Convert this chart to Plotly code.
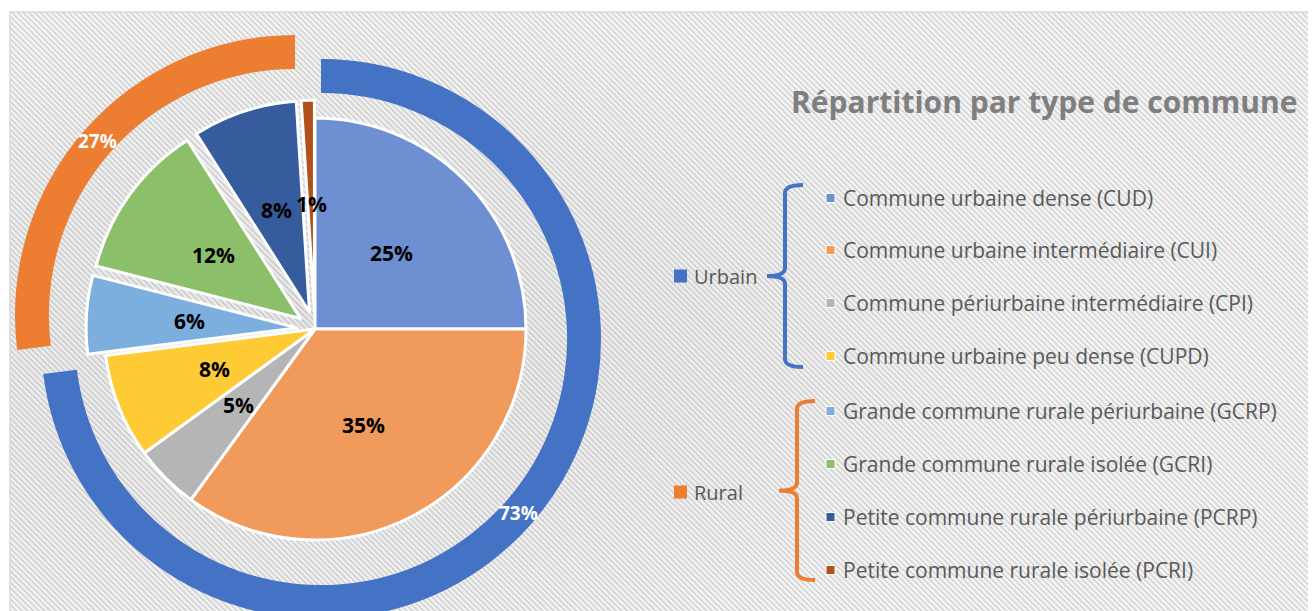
import base64
import math
import plotly.graph_objects as go

# la page html a une marge de 8 px : on raisonne en pixels de l'écran
OFF = 8
W, H = 1316, 640

# données
groupes = ["Urbain", "Rural"]
couleurs_groupes = ["#4472C4", "#ED7D31"]

types = [
    "Commune urbaine dense (CUD)",
    "Commune urbaine intermédiaire (CUI)",
    "Commune périurbaine intermédiaire (CPI)",
    "Commune urbaine peu dense (CUPD)",
    "Grande commune rurale périurbaine (GCRP)",
    "Grande commune rurale isolée (GCRI)",
    "Petite commune rurale périurbaine (PCRP)",
    "Petite commune rurale isolée (PCRI)",
]
parts = [25, 35, 5, 8, 6, 12, 8, 1]
groupe_type = ["Urbain", "Urbain", "Urbain", "Urbain", "Rural", "Rural", "Rural", "Rural"]
couleurs_types = ["#6E90D2", "#F09A5C", "#B5B5B5", "#FFCB35",
                  "#7CAFDE", "#8CBF6A", "#365C9E", "#B0501A"]

totaux = [sum(v for v, g in zip(parts, groupe_type) if g == gr) for gr in groupes]


def px_x(x):
    return (x - OFF) / W


def px_y(y):
    return 1 - (y - OFF) / H


def domaine(cx, cy, demi):
    return dict(x=[px_x(cx - demi), px_x(cx + demi)], y=[px_y(cy + demi), px_y(cy - demi)])


def etiquette(x, y, texte, taille, couleur, gras=True, xanchor="center"):
    return dict(x=px_x(x), y=px_y(y), xref="paper", yref="paper", text=texte,
                xanchor=xanchor, yanchor="middle", showarrow=False,
                font=dict(family="Open Sans", size=taille, color=couleur,
                          weight="bold" if gras else "normal"))


# géométrie (pixels écran)
PIE_CX, PIE_CY, PIE_R, PULL = 315, 329, 211, 0.085
RING_R, RING_HOLE = 280, 0.879
ring_centres = [(321, 339), (295, 315)]

fig = go.Figure()
annotations = []

# anneau extérieur : une trace par groupe (effet "éclaté")
cumul = 0
for i, (gr, (cx, cy)) in enumerate(zip(groupes, ring_centres)):
    cols = ["rgba(0,0,0,0)"] * len(groupes)
    cols[i] = couleurs_groupes[i]
    fig.add_trace(go.Pie(
        values=totaux, labels=groupes, textinfo="none",
        marker=dict(colors=cols, line=dict(width=0)),
        hole=RING_HOLE, sort=False, direction="clockwise", rotation=0,
        domain=domaine(cx, cy, RING_R), showlegend=False, hoverinfo="skip",
    ))
    mid = (cumul + totaux[i] / 2) / sum(totaux) * 2 * math.pi
    cumul += totaux[i]
    rr = RING_R * (1 + RING_HOLE) / 2
    annotations.append(etiquette(cx + rr * math.sin(mid), cy - rr * math.cos(mid),
                                 f"{totaux[i]}%", 19, "white"))

# camembert intérieur
pulls = [PULL if g == "Rural" else 0 for g in groupe_type]
fig.add_trace(go.Pie(
    values=parts, labels=types, textinfo="none",
    marker=dict(colors=couleurs_types, line=dict(color="white", width=3)),
    pull=pulls, sort=False, direction="clockwise", rotation=0,
    domain=domaine(PIE_CX, PIE_CY, PIE_R * (1 + PULL)), showlegend=False,
))

# étiquettes des parts (au milieu du rayon, le long de l'angle médian)
cumul = 0
total = sum(parts)
for v, p in zip(parts, pulls):
    mid = (cumul + v / 2) / total * 2 * math.pi
    cumul += v
    rr = 0.51 * PIE_R + p * PIE_R
    annotations.append(etiquette(PIE_CX + rr * math.sin(mid), PIE_CY - rr * math.cos(mid),
                                 f"{v}%", 21, "black"))

# titre
annotations.append(etiquette(789, 102, "Répartition par type de commune", 30, "#7F7F7F",
                             xanchor="left"))

# légende personnalisée
shapes = []
legende_y = [198, 250, 303, 356, 411, 464, 517, 570]
groupe_y = [276, 492]
accolades = [(785, 185, 367, 803, 767), (797, 401, 580, 815, 779)]


def accolade(x, y0, y1, xr, xl):
    ym = (y0 + y1) / 2
    pts = [
        ("M", [(xr, y0)]), ("Q", [(x, y0), (x, y0 + 8)]), ("L", [(x, ym - 8)]),
        ("Q", [(x, ym), (xl, ym)]), ("Q", [(x, ym), (x, ym + 8)]), ("L", [(x, y1 - 8)]),
        ("Q", [(x, y1), (xr, y1)]),
    ]
    return " ".join(cmd + " " + " ".join(f"{px_x(a):.5f},{px_y(b):.5f}" for a, b in p) for cmd, p in pts)


for i, gr in enumerate(groupes):
    gy = groupe_y[i]
    shapes.append(dict(type="rect", xref="paper", yref="paper",
                       x0=px_x(674), x1=px_x(687), y0=px_y(gy + 6.5), y1=px_y(gy - 6.5),
                       fillcolor=couleurs_groupes[i], line=dict(width=0)))
    annotations.append(etiquette(692, gy, gr, 20, "#595959", gras=False, xanchor="left"))
    x, y0, y1, xr, xl = accolades[i]
    shapes.append(dict(type="path", xref="paper", yref="paper", path=accolade(x, y0, y1, xr, xl),
                       line=dict(color=couleurs_groupes[i], width=4)))

for t, c, ly in zip(types, couleurs_types, legende_y):
    shapes.append(dict(type="rect", xref="paper", yref="paper",
                       x0=px_x(826), x1=px_x(835), y0=px_y(ly + 4.5), y1=px_y(ly - 4.5),
                       fillcolor=c, line=dict(color="white", width=1)))
    annotations.append(etiquette(841, ly, t, 21, "#595959", gras=False, xanchor="left"))

# cadre
shapes.append(dict(type="rect", xref="paper", yref="paper", x0=px_x(10), x1=1.02,
                   y0=-0.02, y1=px_y(12), line=dict(color="#D9D9D9", width=1.5), layer="above"))

# fond hachuré
bw, bh = W, H
svg = f"""<svg xmlns='http://www.w3.org/2000/svg' width='{bw}' height='{bh}'>
<defs>
<pattern id='h' width='4' height='4' patternUnits='userSpaceOnUse' patternTransform='rotate(-45)'>
<rect width='4' height='4' fill='#F8F8F8'/><rect width='2' height='4' fill='#D8D8D8'/>
</pattern>
<radialGradient id='g' cx='0.24' cy='0.52' r='0.55'>
<stop offset='0' stop-color='#000' stop-opacity='0.06'/>
<stop offset='1' stop-color='#000' stop-opacity='0'/>
</radialGradient>
</defs>
<rect width='{bw}' height='{bh}' fill='url(#h)'/>
<rect width='{bw}' height='{bh}' fill='url(#g)'/>
</svg>"""
src = "data:image/svg+xml;base64," + base64.b64encode(svg.encode()).decode()

fig.update_layout(
    width=W, height=H, margin=dict(l=0, r=0, t=0, b=0),
    paper_bgcolor="white", plot_bgcolor="white",
    annotations=annotations, shapes=shapes,
    images=[dict(source=src, xref="paper", yref="paper", x=px_x(10), y=px_y(12),
                 sizex=1, sizey=1, xanchor="left", yanchor="top",
                 sizing="stretch", layer="below")],
)

fig.write_html("out.html")
